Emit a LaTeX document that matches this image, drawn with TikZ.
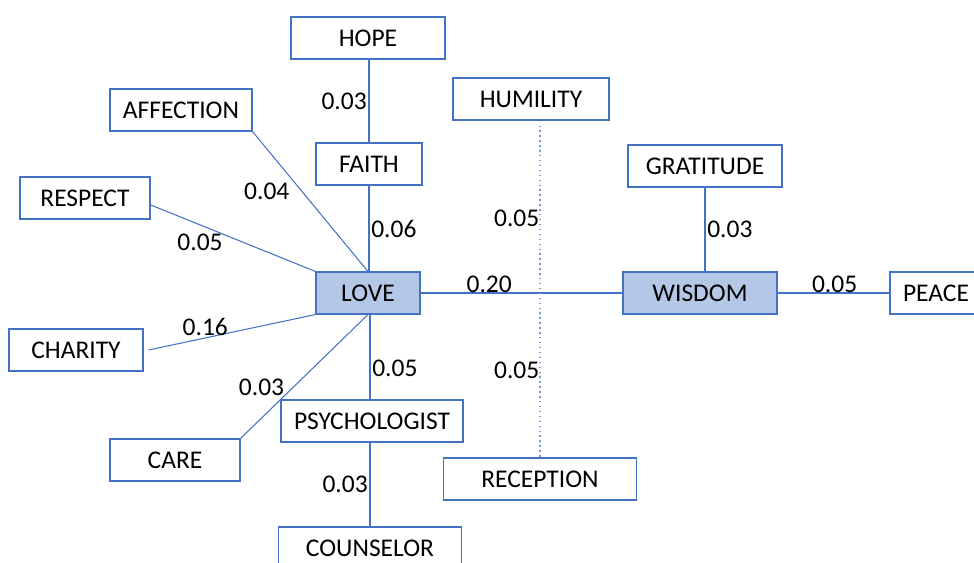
\documentclass[tikz,border=0pt]{standalone}
\usepackage{fontspec}
\setmainfont{Carlito}
\definecolor{boxblue}{HTML}{4472C4}
\definecolor{boxfill}{HTML}{B4C7E7}
\definecolor{dotblue}{HTML}{7396D6}
\tikzset{
  box/.style={draw=boxblue, line width=0.6pt, fill=white, minimum height=42*0.02cm, inner sep=0pt},
  core/.style={box, fill=boxfill},
  wd/.style={minimum width=#1*0.02cm},
  link/.style={draw=boxblue, line width=0.6pt},
  weight/.style={inner sep=1pt, text=black},
}
\begin{document}
\begin{tikzpicture}[x=0.02cm, y=-0.02cm, font=\fontsize{14.5}{17}\selectfont]
\useasboundingbox (0,0) rectangle (974,562);
\node[box, wd=154] (hope)       at (368,38)  {HOPE};
\node[box, wd=142] (affection)  at (181,110) {AFFECTION};
\node[box, wd=156] (humility)   at (531,99)  {HUMILITY};
\node[box, wd=106] (faith)      at (369,164) {FAITH};
\node[box, wd=154] (gratitude)  at (705,166) {GRATITUDE};
\node[box, wd=130] (respect)    at (85,198)  {RESPECT};
\node[core, wd=104] (love)      at (368,293) {LOVE};
\node[core, wd=154] (wisdom)    at (700,293) {WISDOM};
\node[box, wd=92]  (peace)      at (936,293) {PEACE};
\node[box, wd=134] (charity)    at (76,350)  {CHARITY};
\node[box, wd=182] (psych)      at (372,421) {PSYCHOLOGIST};
\node[box, wd=130] (care)       at (175,460) {CARE};
\node[box, wd=193] (reception)  at (540,479) {RECEPTION};
\node[box, wd=183] (counselor)  at (370,548) {COUNSELOR};
%
\draw[link] (hope.south -| faith.north) -- (faith.north) node[weight, pos=0.5, left] {0.03};
\draw[link] (faith.south) -- (faith.south |- love.north) node[weight, pos=0.5, right] {0.06};
\draw[link] (affection.south east) -- (love.north) node[weight, pos=0.43, left=6pt] {0.04};
\draw[link] (respect.-6) -- (love.north west) node[weight, pos=0.3, below=4pt] {0.05};
\draw[link] ([xshift=5*0.02cm]charity.east) -- (love.south west) node[weight, pos=0.34, above] {0.16};
\draw[link] (care.north east) -- (love.south) node[weight, pos=0.415, left=4pt] {0.03};
\draw[link] ([xshift=2*0.02cm]love.south) -- ([xshift=2*0.02cm]love.south |- psych.north) node[weight, pos=0.63, right] {0.05};
\draw[link] (counselor.north |- psych.south) -- (counselor.north) node[weight, pos=0.5, left] {0.03};
\draw[link] (love.east) -- (wisdom.west) node[weight, pos=0.34, above, inner sep=0pt] {0.20};
\draw[link] (wisdom.east) -- (peace.west) node[weight, pos=0.51, above, inner sep=0pt] {0.05};
\draw[link] (gratitude.south) -- (gratitude.south |- wisdom.north) node[weight, pos=0.5, right] {0.03};
\draw[dotblue, line width=0.8pt, dotted, shorten <=5*0.02cm] (humility.south -| reception.north) -- (reception.north)
  node[weight, pos=0.29, left, inner sep=0pt] {0.05}
  node[weight, pos=0.74, left, inner sep=0pt] {0.05};
\end{tikzpicture}
\end{document}
